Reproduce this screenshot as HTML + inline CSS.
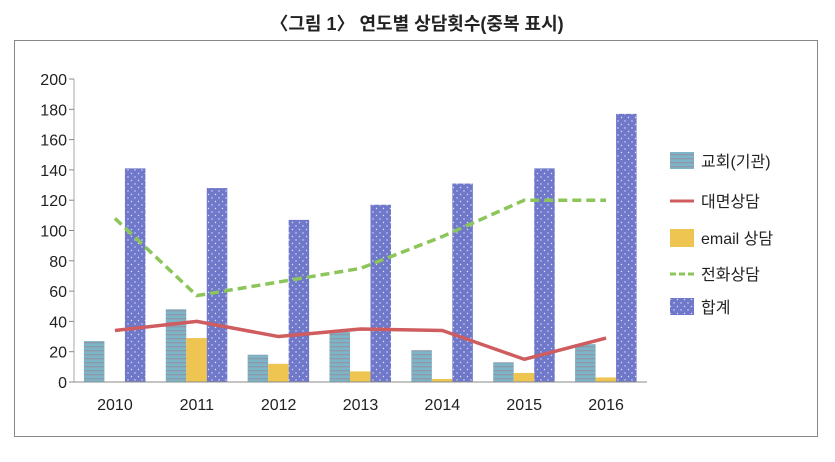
<!DOCTYPE html>
<html><head><meta charset="utf-8"><style>
body{margin:0;background:#fff;width:835px;height:457px;overflow:hidden;font-family:"Liberation Sans","Noto Sans CJK KR",sans-serif}
</style></head><body>
<svg width="835" height="457" xmlns="http://www.w3.org/2000/svg">
<defs>
<pattern id="hstripe" width="4" height="4" patternUnits="userSpaceOnUse"><rect width="4" height="4" fill="#7cb4c8"/><rect y="2" width="4" height="1.3" fill="#8e9aa8"/></pattern>
<pattern id="dots" width="7" height="7" patternUnits="userSpaceOnUse"><rect width="7" height="7" fill="#6f78c9"/><circle cx="2" cy="2" r="0.7" fill="#dfe2ff"/><circle cx="5.5" cy="5.5" r="0.7" fill="#dfe2ff"/></pattern>
</defs>
<text x="417" y="30" text-anchor="middle" font-size="18" font-weight="bold" fill="#222">〈그림 1〉 연도별 상담횟수(중복 표시)</text>
<rect x="14.5" y="40.5" width="803" height="396" fill="none" stroke="#888"/>
<g id="plot"></g>
<g font-size="16" fill="#222">
<rect x="670" y="152" width="24" height="17" fill="url(#hstripe)"/>
<text x="701" y="167">교회(기관)</text>
<line x1="670" y1="201" x2="694" y2="201" stroke="#cf5c5e" stroke-width="3"/>
<text x="701" y="207">대면상담</text>
<rect x="670" y="229" width="24" height="18" fill="#eec550"/>
<text x="701" y="244">email 상담</text>
<line x1="670" y1="274" x2="694" y2="274" stroke="#8cc65a" stroke-width="3" stroke-dasharray="6,3"/>
<text x="701" y="280">전화상담</text>
<rect x="670" y="298" width="24" height="17" fill="url(#dots)"/>
<text x="701" y="313">합계</text>
</g>
</svg>
<script>
const categories=["2010","2011","2012","2013","2014","2015","2016"];
const church=[27,48,18,33,21,13,25];
const email=[0,29,12,7,2,6,3];
const total=[141,128,107,117,131,141,177];
const face=[34,40,30,35,34,15,29];
const phone=[108,57,66,75,96,120,120];
const yTicks=[0,20,40,60,80,100,120,140,160,180,200];
const NS="http://www.w3.org/2000/svg";
const g=document.getElementById('plot');
const X0=74,X1=647,Y0=382,Y1=79,YMAX=200;
const band=(X1-X0)/categories.length;
const xc=i=>X0+band*(i+0.5);
const y=v=>Y0-(v/YMAX)*(Y0-Y1);
function mk(tag,attrs){const e=document.createElementNS(NS,tag);for(const k in attrs)e.setAttribute(k,attrs[k]);g.appendChild(e);return e;}
let ax=mk('line',{x1:X0,y1:Y1,x2:X0,y2:Y0,stroke:'#aaa'});


yTicks.forEach(t=>{
 const tk=mk('line',{x1:X0-5,x2:X0,y1:y(t),y2:y(t),stroke:'#888'});
 
 
 const tx=mk('text',{x:X0-7,y:y(t)+6,'text-anchor':'end','font-size':'16',fill:'#222'});
 tx.textContent=t;
 
 
});
const bw=20.5;
const series=[[church,'url(#hstripe)',-31,'bar-church'],[email,'#eec550',-10.5,'bar-email'],[total,'url(#dots)',10,'bar-total']];
categories.forEach((c,i)=>{
 series.forEach(s=>{
  const v=s[0][i];
  const r=mk('rect',{x:xc(i)+s[2],y:y(v),width:bw,height:Y0-y(v),fill:s[1]});
  
  
 });
 const tx=mk('text',{x:xc(i),y:410,'text-anchor':'middle','font-size':'16',fill:'#222'});
 tx.textContent=c;
 
 
});
let xa=mk('line',{x1:X0,y1:Y0,x2:X1,y2:Y0,stroke:'#888'});


const l1=mk('polyline',{points:face.map((v,i)=>xc(i)+','+y(v)).join(' '),fill:'none',stroke:'#cf5c5e','stroke-width':3.5,'stroke-linejoin':'round'});


const l2=mk('polyline',{points:phone.map((v,i)=>xc(i)+','+y(v)).join(' '),fill:'none',stroke:'#8cc65a','stroke-width':3.5,'stroke-dasharray':'9,5'});


</script>
</body></html>
